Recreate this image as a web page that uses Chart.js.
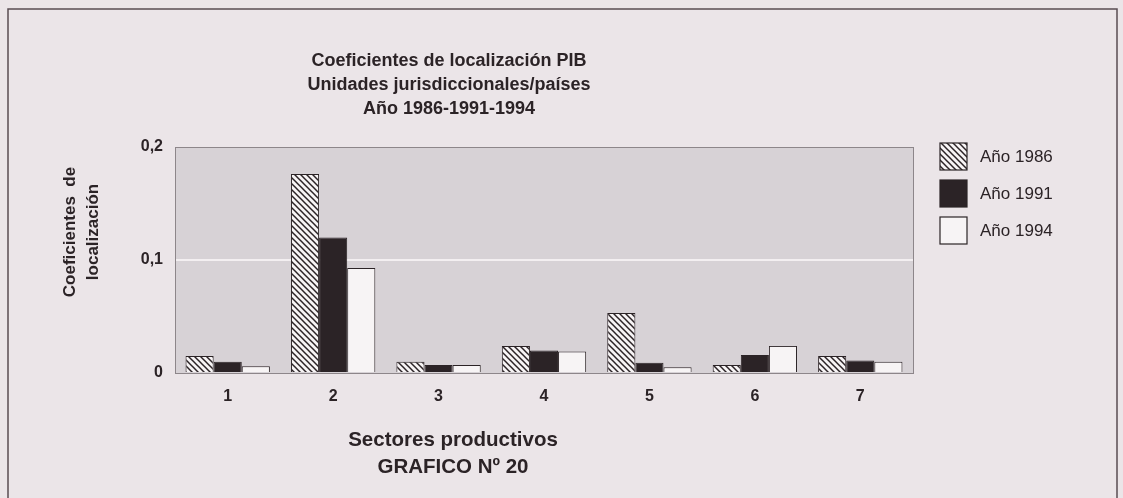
<!DOCTYPE html>
<html>
<head>
<meta charset="utf-8">
<script src="https://cdn.jsdelivr.net/npm/chart.js@4/dist/chart.umd.min.js"></script>
<style>
  html, body { margin: 0; padding: 0; background: #ebe5e8; }
  #wrap { position: relative; width: 1123px; height: 498px; }
</style>
</head>
<body>
<div id="wrap"><canvas id="chart" width="1123" height="498"></canvas></div>
<script>
// ---- data ----
const sectores = ['1', '2', '3', '4', '5', '6', '7'];
const anio1986 = [0.015, 0.176, 0.010, 0.024, 0.053, 0.007, 0.015];
const anio1991 = [0.010, 0.120, 0.007, 0.020, 0.009, 0.016, 0.011];
const anio1994 = [0.006, 0.093, 0.007, 0.019, 0.005, 0.024, 0.010];
const seriesLabels = ['Año 1986', 'Año 1991', 'Año 1994'];
const yTicks = [0, 0.1, 0.2];

const titleLines = ['Coeficientes de localización PIB', 'Unidades jurisdiccionales/países', 'Año 1986-1991-1994'];
const xTitleLines = ['Sectores productivos', 'GRAFICO Nº 20'];
const yTitleLines = ['Coeficientes  de', 'localización'];

const FONT = '"Liberation Sans", Arial, Helvetica, sans-serif';
const INK = '#2b2326';

// diagonal hatch used for 1986
function makeHatch() {
  const s = 6;
  const c = document.createElement('canvas');
  c.width = s; c.height = s;
  const g = c.getContext('2d');
  g.fillStyle = '#f7f4f5';
  g.fillRect(0, 0, s, s);
  g.strokeStyle = INK;
  g.lineWidth = 1.5;
  [-s, 0, s].forEach(k => {
    g.beginPath();
    g.moveTo(-1, -1 + k);
    g.lineTo(s + 1, s + 1 + k);
    g.stroke();
  });
  return g.createPattern(c, 'repeat');
}

const ctx = document.getElementById('chart').getContext('2d');
const hatch = makeHatch();
const fills = [hatch, INK, '#f7f4f5'];

// background, frame, plot area, texts, legend
const decor = {
  id: 'decor',
  beforeDraw(chart) {
    const c = chart.ctx;
    const a = chart.chartArea;
    c.save();
    c.fillStyle = '#ebe5e8';
    c.fillRect(0, 0, chart.width, chart.height);
    c.strokeStyle = '#5a4c52';
    c.lineWidth = 1.5;
    c.beginPath();
    c.moveTo(8, 498); c.lineTo(8, 9); c.lineTo(1117, 9); c.lineTo(1117, 498);
    c.stroke();
    c.fillStyle = '#d7d2d6';
    c.fillRect(a.left, a.top, a.right - a.left, a.bottom - a.top);
    c.restore();
  },
  afterDraw(chart) {
    const c = chart.ctx;
    const a = chart.chartArea;
    c.save();
    c.strokeStyle = '#8d868a';
    c.lineWidth = 1;
    c.strokeRect(a.left + 0.5, a.top + 0.5, a.right - a.left, a.bottom - a.top);

    c.fillStyle = INK;
    c.textAlign = 'center';
    c.textBaseline = 'middle';
    c.font = 'bold 18px ' + FONT;
    titleLines.forEach((t, i) => c.fillText(t, 449, 61 + i * 24));
    c.font = 'bold 20.5px ' + FONT;
    xTitleLines.forEach((t, i) => c.fillText(t, 453, 440 + i * 27));

    c.font = 'bold 17px ' + FONT;
    yTitleLines.forEach((t, i) => {
      c.save();
      c.translate(70 + i * 23, 232);
      c.rotate(-Math.PI / 2);
      c.fillText(t, 0, 0);
      c.restore();
    });

    // legend
    c.textAlign = 'left';
    c.font = '17px ' + FONT;
    chart.data.datasets.forEach((ds, i) => {
      const top = 143 + i * 37;
      c.fillStyle = ds.backgroundColor;
      c.fillRect(940, top, 27, 27);
      c.strokeStyle = INK;
      c.lineWidth = 1.2;
      c.strokeRect(940, top, 27, 27);
      c.fillStyle = INK;
      c.fillText(ds.label, 980, top + 14);
    });
    c.restore();
  }
};

new Chart(ctx, {
  type: 'bar',
  data: {
    labels: sectores,
    datasets: [anio1986, anio1991, anio1994].map((vals, i) => ({
      label: seriesLabels[i],
      data: vals,
      backgroundColor: fills[i],
      borderColor: INK,
      borderWidth: 1,
      categoryPercentage: 0.8,
      barPercentage: 1.0
    }))
  },
  options: {
    responsive: false,
    animation: false,
    layout: { padding: { top: 147, right: 210, left: 0, bottom: 0 } },
    plugins: {
      legend: { display: false },
      title: { display: false },
      tooltip: { enabled: false }
    },
    scales: {
      x: {
        grid: { display: false },
        border: { display: false },
        ticks: { color: INK, font: { family: FONT, size: 16, weight: 'bold' }, padding: 6 },
        afterFit(scale) { scale.height = 125; }
      },
      y: {
        min: 0,
        max: 0.2,
        afterBuildTicks(scale) { scale.ticks = yTicks.map(v => ({ value: v })); },
        grid: {
          color: c => (c.tick && c.tick.value === 0.1) ? '#f3eff1' : 'rgba(0,0,0,0)',
          lineWidth: 2,
          drawTicks: false
        },
        border: { display: false },
        ticks: {
          color: INK,
          font: { family: FONT, size: 16, weight: 'bold' },
          padding: 12,
          callback: v => v === 0 ? '0' : String(v).replace('.', ',')
        },
        afterFit(scale) { scale.width = 175; }
      }
    }
  },
  plugins: [decor]
});
</script>
</body>
</html>
